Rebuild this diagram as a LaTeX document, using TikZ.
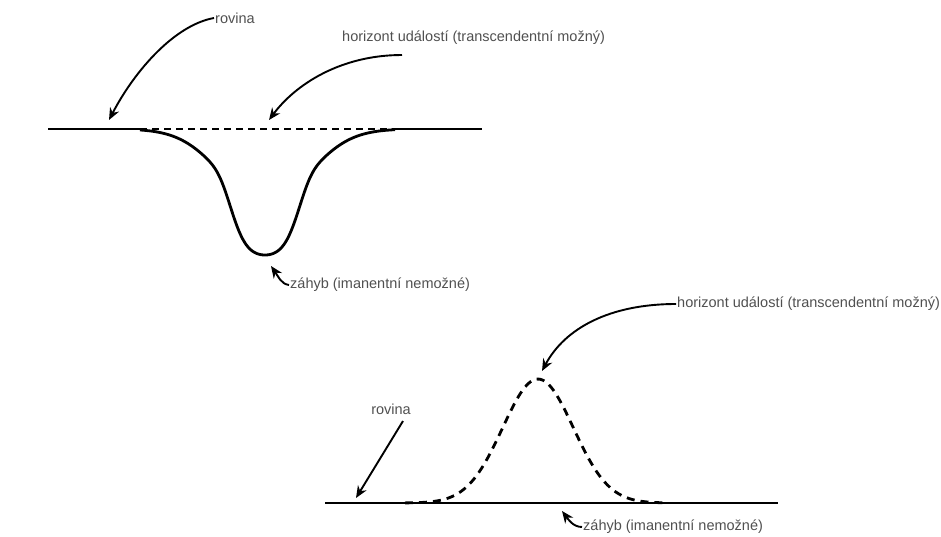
\documentclass[tikz,border=0pt]{standalone}
\usepackage{fontspec}
\setmainfont{Liberation Sans}
\usepackage{tikz}
\usetikzlibrary{arrows.meta}
\definecolor{popis}{RGB}{80,80,80}

\begin{document}
\begin{tikzpicture}[x = 1pt , y = -1pt ,
    linka/.style = {line width = 2.8pt},
    carky/.style = {line width = 2.8pt , dash pattern = on 7pt off 5pt},
    sipka/.style = {line width = 1.9pt , -{Stealth[length = 12pt , width = 10pt]}},
    popisek/.style = {text = popis , font = \fontsize{14.5}{17}\selectfont , inner sep = 1pt}]
    \useasboundingbox (0,0) rectangle (941,536);
    % horni obrazek
    \draw[linka] (48,129) -- (140,129);
    \draw[linka] (395,129) -- (482,129);
    \draw[carky] (140,129) -- (395,129);
    \draw[linka] plot[domain = 140:395 , samples = 150 , smooth] (\x , {129 + 126*(0.4*exp(-min(((\x-265)/37)^2*((\x-265)/37)^2 , 20)) + 0.6*exp(-((\x-265)/60)^2))});
    \node[popisek , anchor = west] (rovinaA) at (214,18) {rovina};
    \node[popisek , anchor = west] (horizontA) at (341,38) {horizont událostí (transcendentní možný)};
    \node[popisek , anchor = west] (zahybA) at (289,285) {záhyb (imanentní nemožné)};
    \coordinate (cilRovinaA) at (109,120);
    \coordinate (cilHorizontA) at (269,120);
    \coordinate (cilZahybA) at (271,266);
    \draw[sipka] (rovinaA.west) .. controls (175,25) and (135,70) .. (cilRovinaA);
    \draw[sipka] (402,55) .. controls (340,55) and (295,85) .. (cilHorizontA);
    \draw[sipka] (zahybA.west) .. controls (281,284) and (278,276) .. (cilZahybA);
    % dolni obrazek
    \draw[linka] (325,503) -- (778,503);
    \draw[carky , dash pattern = on 8pt off 6pt] plot[domain = 405:665 , samples = 80 , smooth] (\x , {503 - 124*exp(-((\x-538)/50)^2)});
    \node[popisek , anchor = west] (horizontB) at (676,304) {horizont událostí (transcendentní možný)};
    \node[popisek] (rovinaB) at (391,409) {rovina};
    \node[popisek , anchor = west] (zahybB) at (582,527) {záhyb (imanentní nemožné)};
    \coordinate (cilHorizontB) at (542,371);
    \coordinate (cilRovinaB) at (356,498);
    \coordinate (cilZahybB) at (562,511);
    \draw[sipka] (horizontB.west) .. controls (610,304) and (565,328) .. (cilHorizontB);
    \draw[sipka] (403,421) -- (cilRovinaB);
    \draw[sipka] (zahybB.west) .. controls (573,527) and (568,519) .. (cilZahybB);
\end{tikzpicture}
\end{document}
